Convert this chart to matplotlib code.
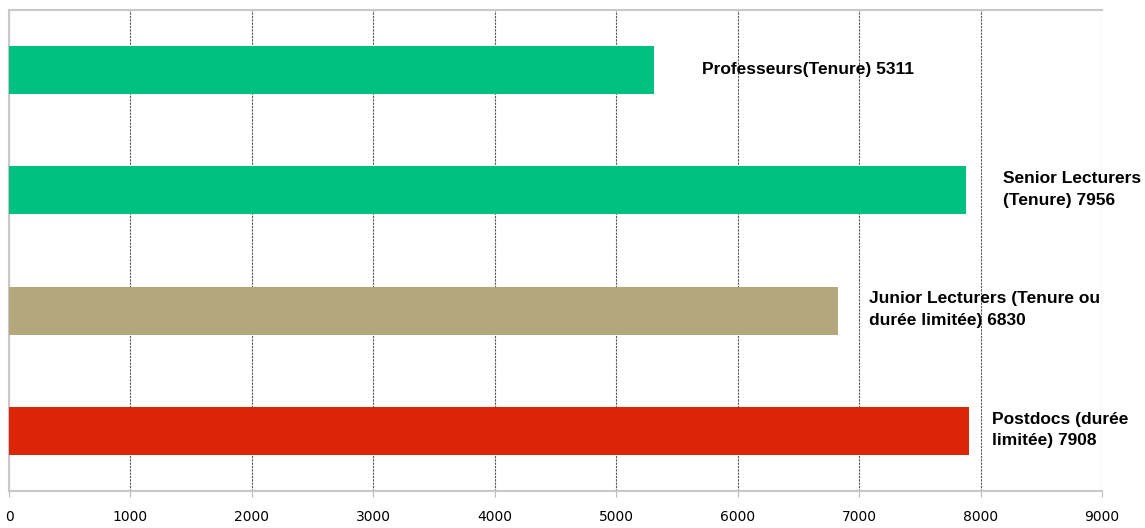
import matplotlib
matplotlib.use("Agg")
import matplotlib.pyplot as plt

categories = ["Professeurs(Tenure) 5311",
              "Senior Lecturers\n(Tenure) 7956",
              "Junior Lecturers (Tenure ou\ndurée limitée) 6830",
              "Postdocs (durée\nlimitée) 7908"]
values = [5311, 7880, 6830, 7908]
colors = ["#00C17F", "#00C17F", "#B4A67D", "#DC2407"]
label_offsets_px = [48, 37, 31, 23]
xticks = [0, 1000, 2000, 3000, 4000, 5000, 6000, 7000, 8000, 9000]

fig = plt.figure(figsize=(11.45, 5.28), dpi=100)
ax = fig.add_axes([9/1145, 1-491/528, 1093/1145, 481/528])

ypos = list(range(len(values)))
ax.barh(ypos, values, height=0.4, color=colors, zorder=3)
ax.set_ylim(len(values) - 0.5, -0.5)
ax.set_xlim(0, 9000)
ax.set_xticks(xticks)
ax.set_xticklabels([str(t) for t in xticks], fontsize=10, family="DejaVu Sans")
ax.set_yticks([])
ax.xaxis.grid(True, linestyle=(0, (2, 1)), color="#555555", linewidth=0.8, zorder=0)
ax.tick_params(axis="x", direction="out", length=4, color="#bbbbbb", pad=10)

for s in ["top", "left", "bottom"]:
    ax.spines[s].set_color("#c8c8c8")
    ax.spines[s].set_linewidth(1.5)
ax.spines["right"].set_visible(False)

for y, v, lab, off in zip(ypos, values, categories, label_offsets_px):
    ax.annotate(lab, xy=(v, y), xytext=(off, 1), textcoords="offset pixels",
                ha="left", va="center", fontsize=12.5, fontweight="bold",
                family="Liberation Sans", linespacing=1.55)

fig.savefig("out.png", dpi=100)
